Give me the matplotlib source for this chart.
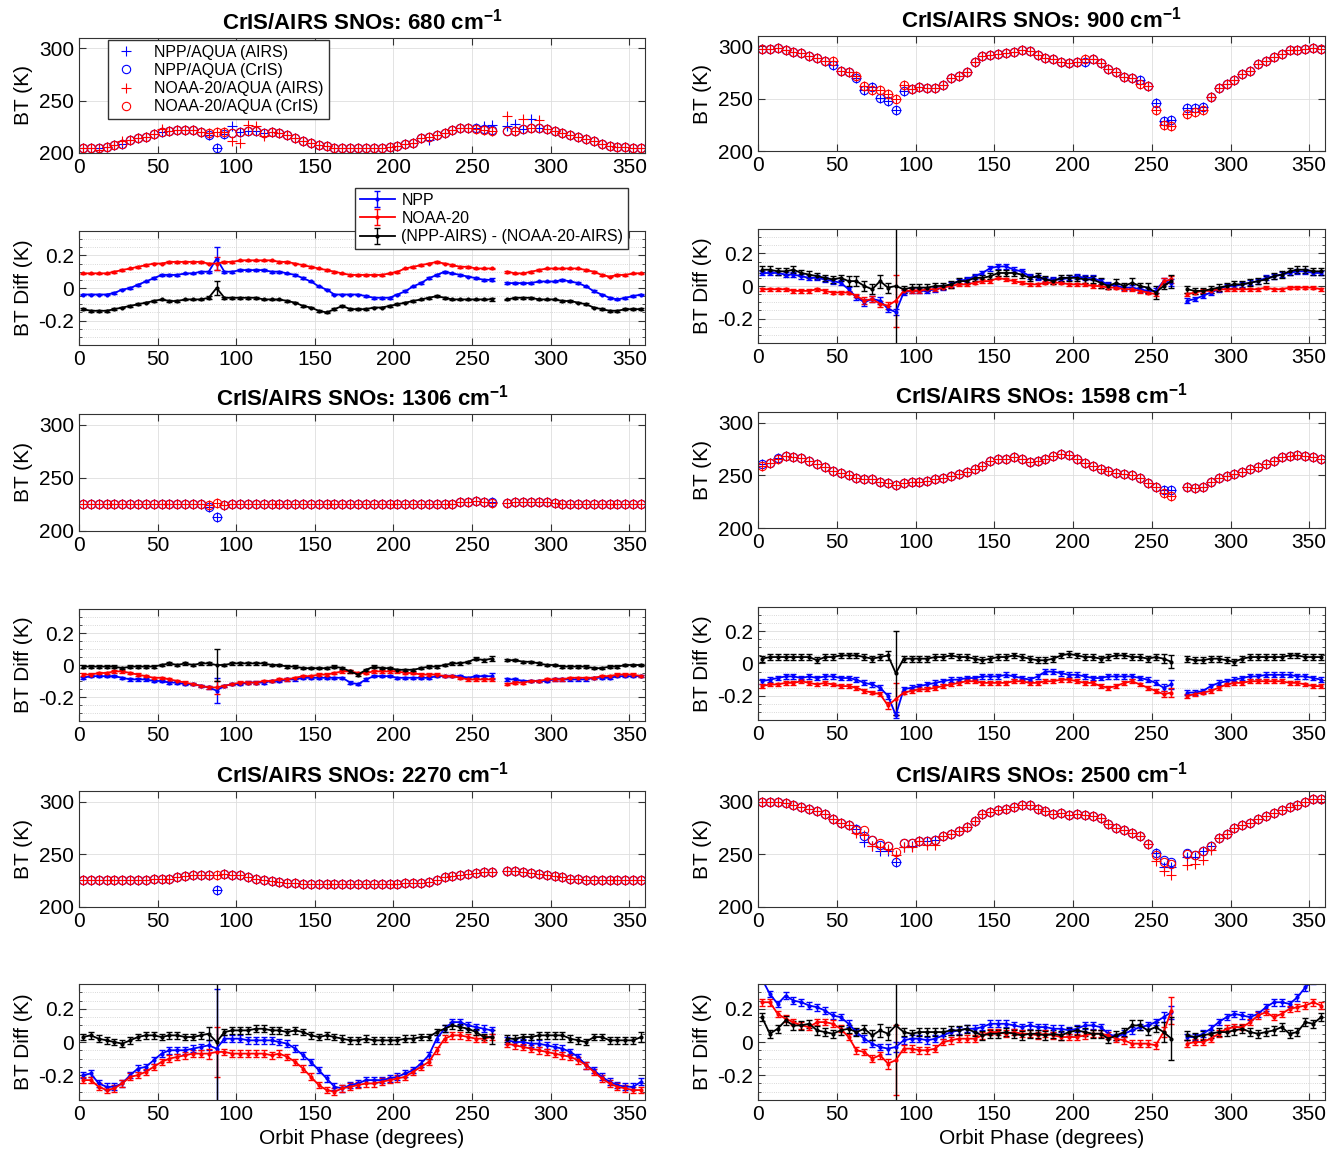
"""CrIS/AIRS SNO comparison: BT and BT difference vs orbit phase, six channels."""

import matplotlib
matplotlib.use("Agg")
import matplotlib.pyplot as plt
import numpy as np
from matplotlib.ticker import MultipleLocator

plt.rcParams["font.family"] = ["Liberation Sans", "DejaVu Sans"]
plt.rcParams["mathtext.fontset"] = "custom"
plt.rcParams["mathtext.rm"] = "Liberation Sans"
plt.rcParams["mathtext.bf"] = "Liberation Sans:bold"
plt.rcParams["axes.unicode_minus"] = False

# orbit phase bin centres (deg); no SNOs between 265 and 270
phase = np.r_[np.arange(2.5, 265, 5), np.arange(272.5, 360, 5)]

# each list: 53 bins up to 262.5, then 18 bins from 272.5
# ---- 680 cm-1 ----
bt_680_npp = [205, 205, 205, 206, 208, 209, 212, 214, 215, 218,
              220, 221, 222, 222, 222, 220, 217, 205, 218, 219,
              220, 221, 221, 219, 220, 219, 217, 214, 211, 210,
              208, 207, 205, 205, 205, 205, 205, 205, 205, 206,
              207, 209, 210, 214, 215, 217, 219, 222, 224, 224,
              224, 223, 222,
              221, 221, 223, 224, 224, 223, 221, 219, 217, 215,
              213, 211, 209, 207, 206, 206, 205, 205]
bt_680_n20 = [205, 205, 205, 206, 208, 209, 212, 214, 215, 218,
              220, 221, 222, 222, 222, 220, 219, 220, 220, 219,
              220, 221, 221, 219, 220, 219, 217, 214, 211, 210,
              208, 207, 205, 205, 205, 205, 205, 205, 205, 206,
              207, 209, 210, 214, 215, 217, 219, 222, 224, 224,
              223, 222, 221,
              221, 221, 223, 224, 224, 223, 221, 219, 217, 215,
              213, 211, 209, 207, 206, 206, 205, 205]
bt_680_npp_airs = [205, 205, 205, 206, 208, 209, 212, 214, 215, 218,
                   220, 221, 222, 222, 222, 220, 217, 205, 218, 226,
                   220, 221, 221, 219, 220, 219, 217, 214, 211, 210,
                   208, 207, 205, 205, 205, 205, 205, 205, 205, 206,
                   207, 209, 210, 214, 212, 217, 219, 222, 224, 224,
                   224, 226, 227,
                   226, 228, 223, 232, 224, 223, 221, 219, 217, 215,
                   213, 211, 209, 207, 206, 206, 205, 205]
bt_680_n20_airs = [205, 205, 203, 206, 208, 211, 212, 214, 215, 218,
                   223, 221, 222, 222, 222, 220, 219, 220, 220, 211,
                   210, 227, 226, 216, 220, 219, 217, 214, 211, 210,
                   208, 207, 205, 205, 205, 205, 205, 205, 205, 206,
                   207, 209, 210, 214, 215, 217, 219, 222, 224, 224,
                   223, 222, 221,
                   235, 221, 232, 224, 231, 223, 221, 219, 217, 215,
                   213, 211, 209, 207, 206, 206, 205, 205]
# BT differences in units of 0.01 K
d_680_npp = [-4, -4, -4, -4, -3, -1, 0, 2, 4, 6,
             8, 8, 8, 9, 9, 10, 10, 18, 10, 10,
             11, 11, 11, 11, 10, 10, 9, 8, 6, 4,
             1, -1, -4, -4, -4, -4, -5, -6, -6, -6,
             -4, -2, 1, 3, 6, 8, 10, 9, 8, 7,
             6, 5, 5,
             3, 3, 3, 3, 4, 4, 4, 5, 4, 3,
             1, -2, -4, -6, -7, -6, -5, -4]
d_680_n20 = [9, 9, 9, 9, 10, 11, 12, 13, 14, 15,
             15, 16, 16, 16, 16, 16, 15, 15, 16, 16,
             17, 17, 17, 17, 17, 16, 16, 15, 14, 13,
             12, 11, 10, 9, 8, 8, 8, 8, 8, 9,
             10, 12, 13, 14, 15, 16, 15, 14, 13, 13,
             12, 12, 12,
             10, 9, 9, 10, 11, 12, 12, 12, 12, 12,
             11, 10, 8, 7, 8, 8, 9, 9]
d_680_dd = [-13, -14, -14, -14, -13, -12, -11, -10, -9, -8,
            -7, -8, -8, -7, -7, -7, -6, 0, -6, -6,
            -6, -6, -6, -7, -7, -7, -8, -9, -11, -12,
            -14, -15, -13, -11, -13, -13, -13, -12, -12, -11,
            -10, -9, -8, -7, -6, -5, -6, -7, -7, -7,
            -7, -7, -7,
            -7, -6, -6, -6, -7, -7, -7, -8, -8, -9,
            -10, -12, -13, -14, -14, -13, -13, -13]
e_680_npp = [0.5, 0.5, 0.5, 0.5, 0.5, 0.5, 0.5, 0.5, 0.5, 0.5,
             0.5, 0.5, 0.5, 0.5, 0.5, 0.5, 0.5, 7, 0.5, 0.5,
             0.5, 0.5, 0.5, 0.5, 0.5, 0.5, 0.5, 0.5, 0.5, 0.5,
             0.5, 0.5, 0.5, 0.5, 0.5, 0.5, 0.5, 0.5, 0.5, 0.5,
             0.5, 0.5, 0.5, 0.5, 0.5, 0.5, 0.5, 0.5, 0.5, 0.5,
             0.5, 0.5, 1,
             0.5, 0.5, 0.5, 0.5, 0.5, 0.5, 0.5, 0.5, 0.5, 0.5,
             0.5, 0.5, 0.5, 0.5, 0.5, 0.5, 0.5, 0.5]
e_680_n20 = [0.5, 0.5, 0.5, 0.5, 0.5, 0.5, 0.5, 0.5, 0.5, 0.5,
             0.5, 0.5, 0.5, 0.5, 0.5, 0.5, 0.5, 4, 0.5, 0.5,
             0.5, 0.5, 0.5, 0.5, 0.5, 0.5, 0.5, 0.5, 0.5, 0.5,
             0.5, 0.5, 0.5, 0.5, 0.5, 0.5, 0.5, 0.5, 0.5, 0.5,
             0.5, 0.5, 0.5, 0.5, 0.5, 0.5, 0.5, 0.5, 0.5, 0.5,
             0.5, 0.5, 0.5,
             0.5, 0.5, 0.5, 0.5, 0.5, 0.5, 0.5, 0.5, 0.5, 0.5,
             0.5, 0.5, 0.5, 0.5, 0.5, 0.5, 0.5, 0.5]
e_680_dd = [0.5, 0.5, 0.5, 0.5, 0.5, 0.5, 0.5, 0.5, 0.5, 0.5,
            0.5, 0.5, 0.5, 0.5, 0.5, 0.5, 1, 4, 0.5, 0.5,
            0.5, 0.5, 0.5, 0.5, 0.5, 0.5, 0.5, 0.5, 0.5, 0.5,
            0.5, 0.5, 0.5, 0.5, 0.5, 0.5, 0.5, 0.5, 0.5, 0.5,
            0.5, 0.5, 0.5, 0.5, 0.5, 0.5, 0.5, 0.5, 0.5, 0.5,
            0.5, 0.5, 1,
            0.5, 0.5, 0.5, 0.5, 0.5, 0.5, 0.5, 0.5, 0.5, 0.5,
            0.5, 0.5, 0.5, 0.5, 0.5, 0.5, 0.5, 0.5]

# ---- 900 cm-1 ----
bt_900_npp = [298, 298, 299, 297, 295, 294, 291, 289, 286, 282,
              277, 276, 270, 258, 261, 251, 248, 239, 257, 259,
              261, 260, 260, 263, 270, 272, 276, 285, 291, 292,
              293, 294, 295, 297, 296, 292, 289, 288, 285, 284,
              285, 285, 288, 284, 278, 276, 271, 270, 268, 262,
              246, 229, 230,
              241, 241, 242, 252, 260, 264, 268, 274, 277, 283,
              286, 290, 293, 297, 297, 298, 299, 298]
bt_900_n20 = [298, 298, 299, 297, 295, 294, 291, 289, 286, 286,
              277, 276, 272, 262, 258, 258, 255, 250, 263, 259,
              261, 260, 260, 263, 270, 272, 276, 285, 291, 292,
              293, 294, 295, 297, 296, 292, 289, 288, 285, 284,
              285, 288, 288, 284, 278, 276, 271, 270, 264, 262,
              239, 225, 224,
              235, 237, 239, 252, 260, 264, 268, 274, 277, 283,
              286, 290, 293, 297, 297, 298, 299, 298]
bt_900_npp_airs = bt_900_npp
bt_900_n20_airs = bt_900_n20
d_900_npp = [8, 8, 8, 7, 7, 6, 5, 5, 4, 3,
             2, -2, -7, -10, -8, -9, -14, -16, -4, -3,
             -3, -3, -2, -1, 1, 3, 4, 6, 8, 11,
             12, 12, 10, 9, 6, 5, 4, 4, 4, 5,
             6, 5, 5, 3, 1, 0, -1, -1, -2, -3,
             -3, 3, 2,
             -9, -8, -6, -4, -2, 0, 0, 1, 2, 3,
             5, 6, 7, 8, 9, 9, 8, 8]
d_900_n20 = [-2, -2, -2, -2, -3, -3, -3, -2, -3, -4,
             -4, -4, -6, -9, -8, -11, -12, -9, -3, -3,
             -3, -2, -2, -1, 0, 1, 1, 2, 3, 3,
             5, 4, 3, 2, 1, 1, 2, 2, 2, 1,
             1, 1, 0, 0, -1, -1, -2, -2, -3, -4,
             -5, 3, 4,
             -5, -4, -3, -3, -2, -2, -2, -2, -2, -2,
             -1, -2, -2, -1, -1, -1, -1, -2]
d_900_dd = [10, 10, 9, 9, 10, 8, 7, 6, 5, 4,
            5, 3, 3, 0, -2, 3, -1, 0, -2, -1,
            -1, -1, 0, 0, 1, 3, 3, 5, 5, 6,
            8, 8, 8, 7, 5, 6, 4, 3, 5, 5,
            5, 4, 4, 2, 0, 2, 0, 2, 0, -1,
            -4, 0, 3,
            -2, -3, -3, -2, -1, 0, 1, 1, 2, 3,
            4, 6, 7, 9, 10, 10, 9, 9]
e_900_npp = [1.5, 1.5, 1.5, 1.5, 1.5, 1.5, 1.5, 1.5, 1.5, 1.5,
             1.5, 1.5, 1.5, 2, 2, 2, 2, 2, 1.5, 1.5,
             1.5, 1.5, 1.5, 1.5, 1.5, 1.5, 1.5, 1.5, 1.5, 1.5,
             1.5, 1.5, 1.5, 1.5, 1.5, 1.5, 1.5, 1.5, 1.5, 1.5,
             1.5, 1.5, 1.5, 1.5, 1.5, 1.5, 1.5, 1.5, 1.5, 1.5,
             1.5, 2, 2,
             1.5, 1.5, 1.5, 1.5, 1.5, 1.5, 1.5, 1.5, 1.5, 1.5,
             1.5, 1.5, 1.5, 1.5, 1.5, 1.5, 1.5, 1.5]
e_900_n20 = [1, 1, 1, 1, 1, 1, 1, 1, 1, 1,
             1, 1, 1, 2, 2, 2, 2, 16, 1, 1,
             1, 1, 1, 1, 1, 1, 1, 1, 1, 1,
             1, 1, 1, 1, 1, 1, 1, 1, 1, 1,
             1, 1, 1, 1, 1, 1, 1, 1, 1, 1,
             1, 2, 2,
             1, 1, 1, 1, 1, 1, 1, 1, 1, 1,
             1, 1, 1, 1, 1, 1, 1, 1]
e_900_dd = [2, 2, 2, 2, 2, 2, 2, 2, 2, 2,
            2, 3, 3, 3, 3, 4, 3, 50, 2, 2,
            2, 2, 2, 2, 2, 2, 2, 2, 2, 2,
            2, 2, 2, 2, 2, 2, 2, 2, 2, 2,
            2, 2, 2, 3, 2, 2, 2, 3, 2, 3,
            4, 2, 4,
            2, 2, 2, 2, 2, 2, 2, 2, 2, 2,
            2, 2, 2, 2, 2, 2, 2, 2]

# ---- 1306 cm-1 ----
bt_1306_npp = [225, 225, 225, 225, 225, 225, 225, 225, 225, 225,
               225, 225, 225, 225, 225, 225, 223, 213, 224, 225,
               225, 225, 225, 225, 225, 225, 225, 225, 225, 225,
               225, 225, 225, 225, 225, 225, 225, 225, 225, 225,
               225, 225, 225, 225, 225, 225, 225, 225, 227, 227,
               228, 227, 227,
               226, 227, 227, 227, 227, 227, 226, 225, 225, 225,
               225, 225, 225, 225, 225, 225, 225, 225]
bt_1306_n20 = [225, 225, 225, 225, 225, 225, 225, 225, 225, 225,
               225, 225, 225, 225, 225, 225, 224, 226, 224, 225,
               225, 225, 225, 225, 225, 225, 225, 225, 225, 225,
               225, 225, 225, 225, 225, 225, 225, 225, 225, 225,
               225, 225, 225, 225, 225, 225, 225, 225, 227, 227,
               228, 227, 226,
               226, 227, 227, 227, 227, 227, 226, 225, 225, 225,
               225, 225, 225, 225, 225, 225, 225, 225]
bt_1306_npp_airs = bt_1306_npp
bt_1306_n20_airs = bt_1306_n20
d_1306_npp = [-8, -7, -7, -7, -7, -8, -9, -9, -9, -10,
              -10, -11, -11, -12, -12, -13, -14, -16, -13, -12,
              -12, -11, -11, -11, -10, -10, -9, -9, -8, -8,
              -8, -8, -8, -8, -11, -12, -9, -7, -7, -7,
              -8, -8, -8, -8, -8, -7, -7, -7, -7, -8,
              -7, -7, -7,
              -9, -9, -10, -10, -10, -10, -9, -9, -9, -9,
              -9, -8, -8, -8, -7, -7, -7, -7]
d_1306_n20 = [-6, -6, -5, -5, -4, -4, -5, -6, -7, -8,
              -8, -9, -10, -11, -12, -13, -14, -14, -13, -12,
              -11, -11, -11, -10, -10, -9, -9, -8, -7, -7,
              -6, -6, -5, -4, -4, -5, -5, -4, -4, -4,
              -4, -5, -5, -6, -6, -6, -7, -7, -8, -9,
              -9, -9, -9,
              -12, -11, -11, -10, -10, -9, -9, -9, -8, -8,
              -8, -8, -7, -7, -6, -6, -6, -7]
d_1306_dd = [-1, -1, -1, -1, -1, -2, -1, -1, -1, -1,
             0, 1, 0, 1, 0, 1, 1, 0, 0, 1,
             1, 1, 1, 1, 0, 0, -1, -1, -2, -2,
             -2, -2, -1, -2, -4, -6, -3, -1, -2, -2,
             -3, -3, -3, -2, -1, -1, 0, 1, 1, 2,
             4, 3, 4,
             3, 3, 2, 2, 1, 0, 0, -1, -1, -1,
             -1, -2, -2, -1, -1, 0, 0, 0]
e_1306_npp = [0.7, 0.7, 0.7, 0.7, 0.7, 0.7, 0.7, 0.7, 0.7, 0.7,
              0.7, 0.7, 0.7, 0.7, 0.7, 0.7, 0.7, 8, 0.7, 0.7,
              0.7, 0.7, 0.7, 0.7, 0.7, 0.7, 0.7, 0.7, 0.7, 0.7,
              0.7, 0.7, 0.7, 0.7, 0.7, 0.7, 0.7, 0.7, 0.7, 0.7,
              0.7, 0.7, 0.7, 0.7, 0.7, 0.7, 0.7, 0.7, 0.7, 0.7,
              0.7, 1, 2,
              0.7, 0.7, 0.7, 0.7, 0.7, 0.7, 0.7, 0.7, 0.7, 0.7,
              0.7, 0.7, 0.7, 0.7, 0.7, 0.7, 0.7, 0.7]
e_1306_n20 = [0.7, 0.7, 0.7, 0.7, 0.7, 0.7, 0.7, 0.7, 0.7, 0.7,
              0.7, 0.7, 0.7, 0.7, 0.7, 0.7, 0.7, 4, 0.7, 0.7,
              0.7, 0.7, 0.7, 0.7, 0.7, 0.7, 0.7, 0.7, 0.7, 0.7,
              0.7, 0.7, 0.7, 0.7, 0.7, 0.7, 0.7, 0.7, 0.7, 0.7,
              0.7, 0.7, 0.7, 0.7, 0.7, 0.7, 0.7, 0.7, 0.7, 0.7,
              0.7, 0.7, 1,
              0.7, 0.7, 0.7, 0.7, 0.7, 0.7, 0.7, 0.7, 0.7, 0.7,
              0.7, 0.7, 0.7, 0.7, 0.7, 0.7, 0.7, 0.7]
e_1306_dd = [0.7, 0.7, 0.7, 0.7, 0.7, 0.7, 0.7, 0.7, 0.7, 0.7,
             0.7, 0.7, 0.7, 0.7, 0.7, 0.7, 1, 10, 0.7, 0.7,
             0.7, 0.7, 0.7, 0.7, 0.7, 0.7, 0.7, 0.7, 0.7, 0.7,
             0.7, 0.7, 0.7, 0.7, 0.7, 0.7, 0.7, 0.7, 0.7, 0.7,
             0.7, 0.7, 0.7, 0.7, 0.7, 0.7, 0.7, 0.7, 0.7, 0.7,
             1, 1, 1.5,
             0.7, 0.7, 0.7, 0.7, 0.7, 0.7, 0.7, 0.7, 0.7, 0.7,
             0.7, 0.7, 0.7, 0.7, 0.7, 0.7, 0.7, 0.7]

# ---- 1598 cm-1 ----
bt_1598_npp = [261, 262, 266, 268, 267, 266, 264, 261, 258, 254,
               252, 250, 247, 246, 246, 244, 243, 241, 243, 244,
               244, 245, 246, 247, 249, 251, 253, 256, 259, 264,
               265, 265, 267, 265, 263, 264, 265, 268, 270, 269,
               265, 262, 259, 256, 254, 252, 251, 250, 247, 243,
               239, 236, 236,
               239, 238, 239, 244, 247, 249, 251, 253, 256, 258,
               261, 264, 267, 268, 269, 268, 267, 265]
bt_1598_n20 = [259, 262, 265, 268, 267, 266, 264, 261, 258, 254,
               252, 250, 247, 246, 246, 244, 243, 241, 243, 244,
               244, 245, 246, 247, 249, 251, 253, 256, 259, 264,
               265, 265, 267, 265, 263, 264, 265, 268, 270, 269,
               265, 262, 259, 256, 254, 252, 251, 250, 247, 243,
               239, 233, 230,
               239, 238, 239, 244, 247, 249, 251, 253, 256, 258,
               261, 264, 267, 268, 269, 268, 267, 265]
bt_1598_npp_airs = bt_1598_npp
bt_1598_n20_airs = bt_1598_n20
d_1598_npp = [-11, -10, -9, -8, -8, -9, -8, -9, -8, -8,
              -9, -9, -10, -12, -13, -15, -20, -32, -16, -15,
              -14, -13, -12, -11, -10, -10, -9, -9, -8, -8,
              -8, -7, -8, -9, -10, -8, -5, -5, -6, -7,
              -7, -8, -9, -9, -8, -8, -8, -8, -9, -10,
              -12, -15, -13,
              -18, -18, -17, -14, -12, -11, -10, -9, -8, -8,
              -7, -7, -7, -7, -8, -8, -9, -10]
d_1598_n20 = [-14, -13, -13, -12, -12, -11, -12, -13, -12, -13,
              -14, -14, -15, -17, -18, -19, -26, -22, -18, -17,
              -16, -16, -15, -14, -13, -12, -11, -11, -12, -12,
              -12, -12, -11, -11, -12, -12, -11, -11, -10, -10,
              -11, -12, -12, -14, -15, -14, -12, -11, -13, -15,
              -17, -19, -18,
              -20, -19, -18, -17, -15, -13, -12, -12, -11, -11,
              -11, -11, -11, -12, -12, -13, -14, -14]
d_1598_dd = [3, 4, 4, 4, 4, 4, 4, 2, 4, 4,
             5, 5, 5, 4, 3, 4, 5, -6, 3, 3,
             3, 3, 4, 4, 5, 4, 4, 3, 2, 3,
             4, 4, 5, 4, 3, 2, 2, 3, 5, 6,
             5, 4, 4, 3, 4, 5, 5, 4, 4, 3,
             4, 3, 1,
             3, 2, 2, 3, 3, 2, 1, 3, 4, 4,
             4, 4, 4, 5, 5, 4, 4, 4]
e_1598_npp = [1.5, 1.5, 1.5, 1.5, 1.5, 1.5, 1.5, 1.5, 1.5, 1.5,
              1.5, 1.5, 1.5, 1.5, 1.5, 1.5, 2, 2, 1.5, 1.5,
              1.5, 1.5, 1.5, 1.5, 1.5, 1.5, 1.5, 1.5, 1.5, 1.5,
              1.5, 1.5, 1.5, 1.5, 1.5, 1.5, 1.5, 1.5, 1.5, 1.5,
              1.5, 1.5, 1.5, 1.5, 1.5, 1.5, 1.5, 1.5, 1.5, 1.5,
              1.5, 2, 3,
              1.5, 1.5, 1.5, 1.5, 1.5, 1.5, 1.5, 1.5, 1.5, 1.5,
              1.5, 1.5, 1.5, 1.5, 1.5, 1.5, 1.5, 1.5]
e_1598_n20 = [1.2, 1.2, 1.2, 1.2, 1.2, 1.2, 1.2, 1.2, 1.2, 1.2,
              1.2, 1.2, 1.2, 1.2, 1.2, 1.2, 2, 10, 1.2, 1.2,
              1.2, 1.2, 1.2, 1.2, 1.2, 1.2, 1.2, 1.2, 1.2, 1.2,
              1.2, 1.2, 1.2, 1.2, 1.2, 1.2, 1.2, 1.2, 1.2, 1.2,
              1.2, 1.2, 1.2, 1.2, 1.2, 1.2, 1.2, 1.2, 1.2, 1.2,
              1.2, 2, 3,
              1.2, 1.2, 1.2, 1.2, 1.2, 1.2, 1.2, 1.2, 1.2, 1.2,
              1.2, 1.2, 1.2, 1.2, 1.2, 1.2, 1.2, 1.2]
e_1598_dd = [1.8, 1.8, 1.8, 1.8, 1.8, 1.8, 1.8, 1.8, 1.8, 1.8,
             1.8, 1.8, 1.8, 1.8, 1.8, 1.8, 3, 26, 1.8, 1.8,
             1.8, 1.8, 1.8, 1.8, 1.8, 1.8, 1.8, 1.8, 1.8, 1.8,
             1.8, 1.8, 1.8, 1.8, 1.8, 1.8, 1.8, 1.8, 1.8, 1.8,
             1.8, 1.8, 1.8, 1.8, 1.8, 1.8, 1.8, 1.8, 1.8, 1.8,
             1.8, 3, 4,
             1.8, 1.8, 1.8, 1.8, 1.8, 1.8, 1.8, 1.8, 1.8, 1.8,
             1.8, 1.8, 1.8, 1.8, 1.8, 1.8, 1.8, 1.8]

# ---- 2270 cm-1 ----
bt_2270_npp = [226, 226, 226, 226, 226, 226, 226, 226, 226, 227,
               227, 227, 228, 229, 230, 230, 230, 216, 231, 230,
               230, 228, 227, 226, 225, 224, 223, 223, 222, 222,
               222, 222, 222, 222, 222, 222, 222, 222, 222, 222,
               222, 223, 223, 223, 224, 226, 228, 229, 230, 231,
               232, 233, 233,
               234, 234, 233, 232, 231, 230, 229, 228, 227, 227,
               226, 226, 226, 226, 226, 226, 226, 226]
bt_2270_n20 = [226, 226, 226, 226, 226, 226, 226, 226, 226, 227,
               227, 227, 228, 229, 230, 230, 230, 230, 231, 230,
               230, 228, 227, 226, 225, 224, 223, 223, 222, 222,
               222, 222, 222, 222, 222, 222, 222, 222, 222, 222,
               222, 223, 223, 223, 224, 226, 228, 229, 230, 231,
               232, 233, 233,
               234, 234, 233, 232, 231, 230, 229, 228, 227, 227,
               226, 226, 226, 226, 226, 226, 226, 226]
bt_2270_npp_airs = bt_2270_npp
bt_2270_n20_airs = bt_2270_n20
d_2270_npp = [-20, -19, -25, -27, -27, -25, -20, -16, -15, -11,
              -7, -5, -5, -5, -4, -3, -2, -4, 2, 2,
              2, 1, 1, 1, 1, 0, -1, -4, -8, -12,
              -17, -22, -27, -28, -26, -25, -23, -23, -23, -22,
              -21, -19, -17, -13, -8, 2, 8, 12, 12, 10,
              9, 8, 7,
              1, 0, 0, -1, -1, -2, -3, -4, -6, -9,
              -14, -17, -21, -24, -26, -27, -27, -24]
d_2270_n20 = [-23, -23, -27, -29, -28, -25, -21, -20, -18, -15,
              -12, -10, -9, -8, -7, -7, -7, -6, -6, -7,
              -7, -7, -7, -7, -8, -7, -9, -12, -16, -21,
              -26, -29, -30, -28, -27, -26, -25, -25, -24, -23,
              -22, -21, -18, -15, -12, -5, 2, 4, 4, 3,
              2, 2, 3,
              -1, -2, -3, -4, -5, -6, -7, -8, -9, -11,
              -14, -18, -22, -25, -27, -28, -29, -29]
d_2270_dd = [3, 4, 2, 1, 0, -1, 1, 3, 4, 4,
             3, 4, 4, 3, 3, 4, 5, 0, 6, 7,
             7, 7, 8, 8, 7, 7, 6, 7, 6, 4,
             3, 4, 3, 2, 1, 1, 2, 1, 1, 1,
             1, 2, 2, 3, 3, 6, 8, 10, 9, 8,
             6, 3, 3,
             2, 2, 3, 3, 4, 4, 4, 4, 2, 1,
             0, 3, 3, 1, 1, 1, 1, 3]
e_2270_npp = [2, 2, 2, 2, 2, 2, 2, 2, 2, 2,
              2, 2, 2, 2, 2, 2, 3, 36, 2, 2,
              2, 2, 2, 2, 2, 2, 2, 2, 2, 2,
              2, 2, 2, 2, 2, 2, 2, 2, 2, 2,
              2, 2, 2, 2, 2, 2, 2, 2, 2, 2,
              2, 2, 2,
              2, 2, 2, 2, 2, 2, 2, 2, 2, 2,
              2, 2, 2, 2, 2, 2, 2, 2]
e_2270_n20 = [2, 2, 2, 2, 2, 2, 2, 2, 2, 2,
              2, 2, 2, 2, 2, 2, 3, 15, 2, 2,
              2, 2, 2, 2, 2, 2, 2, 2, 2, 2,
              2, 2, 2, 2, 2, 2, 2, 2, 2, 2,
              2, 2, 2, 2, 2, 2, 2, 2, 2, 2,
              2, 2, 2,
              2, 2, 2, 2, 2, 2, 2, 2, 2, 2,
              2, 2, 2, 2, 2, 2, 2, 2]
e_2270_dd = [2, 2, 2, 2, 2, 2, 2, 2, 2, 2,
             2, 2, 2, 2, 2, 2, 4, 50, 2, 2,
             2, 2, 2, 2, 2, 2, 2, 2, 2, 2,
             2, 2, 2, 2, 2, 2, 2, 2, 2, 2,
             2, 2, 2, 2, 2, 2, 2, 2, 2, 2,
             2, 2, 4,
             2, 2, 2, 2, 2, 2, 2, 2, 2, 2,
             2, 2, 2, 2, 2, 2, 2, 3]

# ---- 2500 cm-1 ----
bt_2500_npp = [300, 300, 300, 299, 297, 295, 293, 291, 288, 283,
               280, 278, 274, 267, 264, 259, 258, 243, 261, 261,
               263, 263, 264, 267, 269, 272, 276, 282, 288, 290,
               292, 293, 295, 297, 297, 293, 291, 288, 289, 287,
               288, 287, 286, 284, 279, 275, 273, 270, 267, 260,
               251, 245, 243,
               251, 249, 253, 258, 265, 269, 275, 278, 280, 283,
               286, 289, 292, 295, 297, 300, 302, 302]
bt_2500_n20 = [300, 300, 300, 299, 297, 295, 293, 291, 288, 283,
               280, 278, 273, 273, 264, 261, 258, 252, 261, 261,
               263, 263, 264, 267, 269, 272, 276, 282, 288, 290,
               292, 293, 295, 297, 297, 293, 291, 288, 289, 287,
               288, 287, 286, 284, 279, 275, 273, 270, 267, 260,
               249, 243, 241,
               250, 249, 253, 258, 265, 269, 275, 278, 280, 283,
               286, 289, 292, 295, 297, 300, 302, 302]
bt_2500_npp_airs = [300, 300, 300, 299, 297, 295, 293, 291, 288, 283,
                    280, 278, 274, 262, 258, 253, 253, 243, 257, 258,
                    263, 263, 264, 267, 269, 272, 276, 282, 288, 290,
                    292, 293, 295, 297, 297, 293, 291, 288, 289, 287,
                    288, 287, 286, 284, 279, 275, 273, 270, 267, 260,
                    251, 238, 238,
                    247, 247, 253, 258, 265, 269, 275, 278, 280, 283,
                    286, 289, 292, 295, 297, 300, 302, 302]
bt_2500_n20_airs = [300, 300, 300, 299, 297, 295, 293, 291, 288, 283,
                    280, 278, 270, 268, 258, 257, 255, 249, 257, 257,
                    263, 259, 259, 267, 269, 272, 276, 282, 288, 290,
                    292, 293, 295, 297, 297, 293, 291, 288, 289, 287,
                    288, 287, 286, 284, 279, 275, 273, 270, 267, 260,
                    244, 234, 230,
                    240, 241, 245, 254, 265, 269, 275, 278, 280, 283,
                    286, 289, 292, 295, 297, 300, 302, 302]
d_2500_npp = [38, 29, 23, 28, 25, 24, 22, 21, 19, 16,
              15, 11, 6, 2, -1, -3, -4, -3, 1, 2,
              2, 1, 2, 4, 6, 7, 8, 8, 9, 11,
              11, 11, 10, 9, 10, 9, 9, 8, 8, 7,
              8, 10, 10, 9, 5, 3, 5, 7, 9, 10,
              12, 15, 18,
              3, 3, 5, 8, 12, 15, 17, 16, 15, 17,
              21, 24, 24, 23, 27, 33, 37, 40]
d_2500_n20 = [24, 24, 17, 14, 12, 10, 9, 12, 12, 11,
              8, 3, -5, -6, -10, -8, -13, -11, -4, -4,
              -5, -5, -4, 0, 1, 2, 2, 2, 4, 6,
              6, 5, 6, 5, 5, 4, 5, 4, 3, 3,
              3, 4, 5, 5, 4, 2, 1, -1, -1, -1,
              -2, 6, 19,
              -1, 0, 0, 2, 5, 8, 9, 9, 12, 16,
              18, 15, 17, 20, 21, 22, 24, 22]
d_2500_dd = [15, 5, 8, 13, 10, 10, 11, 7, 6, 5,
             7, 8, 6, 8, 4, 7, 5, 10, 6, 5,
             6, 6, 6, 6, 7, 7, 8, 6, 4, 5,
             5, 6, 5, 4, 5, 5, 4, 5, 4, 6,
             7, 6, 5, 5, 2, 4, 6, 10, 10, 7,
             9, 6, 2,
             4, 3, 4, 5, 6, 6, 7, 8, 6, 5,
             6, 7, 9, 5, 6, 12, 11, 15]
e_2500_npp = [2, 2, 2, 2, 2, 2, 2, 2, 2, 2,
              2, 2, 2, 2, 2, 2, 3, 3, 2, 2,
              2, 2, 2, 2, 2, 2, 2, 2, 2, 2,
              2, 2, 2, 2, 2, 2, 2, 2, 2, 2,
              2, 2, 2, 2, 2, 2, 2, 2, 2, 2,
              2, 3, 4,
              2, 2, 2, 2, 2, 2, 2, 2, 2, 2,
              2, 2, 2, 2, 2, 2, 2, 2]
e_2500_n20 = [2, 2, 2, 2, 2, 2, 2, 2, 2, 2,
              2, 2, 2, 2, 2, 2, 3, 21, 2, 2,
              2, 2, 2, 2, 2, 2, 2, 2, 2, 2,
              2, 2, 2, 2, 2, 2, 2, 2, 2, 2,
              2, 2, 2, 2, 2, 2, 2, 2, 2, 2,
              2, 3, 8,
              2, 2, 2, 2, 2, 2, 2, 2, 2, 2,
              2, 2, 2, 2, 2, 2, 2, 2]
e_2500_dd = [2.5, 2.5, 2.5, 2.5, 2.5, 2.5, 2.5, 2.5, 2.5, 2.5,
             2.5, 2.5, 2.5, 2.5, 3, 4, 4, 50, 2.5, 2.5,
             2.5, 2.5, 2.5, 2.5, 2.5, 2.5, 2.5, 2.5, 2.5, 2.5,
             2.5, 2.5, 2.5, 2.5, 2.5, 2.5, 2.5, 2.5, 2.5, 2.5,
             2.5, 2.5, 2.5, 2.5, 2.5, 2.5, 2.5, 3, 3, 3,
             3, 6, 13,
             2.5, 2.5, 2.5, 2.5, 2.5, 2.5, 2.5, 2.5, 2.5, 2.5,
             2.5, 2.5, 2.5, 2.5, 2.5, 2.5, 2.5, 2.5]

channels = ["680", "900", "1306", "1598", "2270", "2500"]
g = globals()

W, H = 1338, 1159
# column x extents and (col, BT top, BT bottom, diff top, diff bottom) in pixels
COLS = {0: (79, 645), 1: (758, 1325)}
ROWS = {
    "680": (0, 37.5, 153, 231, 345),
    "1306": (0, 414, 531, 609, 721),
    "2270": (0, 791, 907, 984, 1100),
    "900": (1, 36, 151, 229, 343),
    "1598": (1, 412, 528, 607, 720),
    "2500": (1, 791, 907, 984, 1100),
}
FS = 15
SEGS = [slice(0, 53), slice(53, None)]
LEG_KW = dict(bbox_transform=None, fontsize=11.5, fancybox=False, edgecolor="0.2",
              framealpha=1, borderpad=0.3, labelspacing=0.2, borderaxespad=0)


def px_rect(x0, x1, top, bottom):
    return [x0 / W, 1 - bottom / H, (x1 - x0) / W, (bottom - top) / H]


def style(ax):
    ax.set_xlim(0, 360)
    ax.set_xticks(np.arange(0, 351, 50))
    ax.set_axisbelow(True)
    ax.grid(True, color="0.87", linewidth=0.6)
    ax.tick_params(direction="in", top=True, right=True, labelsize=FS,
                   length=5, width=0.8, color="0.2")
    for s in ax.spines.values():
        s.set_color("0.2")
        s.set_linewidth(0.8)


fig = plt.figure(figsize=(W / 100, H / 100), dpi=100)
LEG_KW["bbox_transform"] = fig.transFigure

for ch in channels:
    col, bt_top, bt_bot, d_top, d_bot = ROWS[ch]
    x0, x1 = COLS[col]

    # brightness temperature panel
    ax = fig.add_axes(px_rect(x0, x1, bt_top, bt_bot))
    h1, = ax.plot(phase, g[f"bt_{ch}_npp_airs"], "+", color="blue", ms=7, mew=0.8)
    h2, = ax.plot(phase, g[f"bt_{ch}_npp"], "o", color="blue", ms=6, mew=0.8, mfc="none")
    h3, = ax.plot(phase, g[f"bt_{ch}_n20_airs"], "+", color="red", ms=7, mew=0.8)
    h4, = ax.plot(phase, g[f"bt_{ch}_n20"], "o", color="red", ms=6, mew=0.8, mfc="none")
    style(ax)
    ax.set_ylim(200, 310)
    ax.set_yticks([200, 250, 300])
    ax.set_ylabel("BT (K)", fontsize=FS)
    ax.set_title(f"CrIS/AIRS SNOs: {ch} cm$^{{\\mathbf{{-1}}}}$", fontsize=16,
                 fontweight="bold", pad=6)
    if ch == "680":
        ax.legend([h1, h2, h3, h4],
                  ["NPP/AQUA (AIRS)", "NPP/AQUA (CrIS)",
                   "NOAA-20/AQUA (AIRS)", "NOAA-20/AQUA (CrIS)"],
                  loc="upper left", bbox_to_anchor=(108 / W, 1 - 40 / H),
                  handlelength=1.6, handletextpad=1.0, **LEG_KW)

    # BT difference panel
    ax = fig.add_axes(px_rect(x0, x1, d_top, d_bot))
    handles = []
    for key, color in [("npp", "blue"), ("n20", "red"), ("dd", "black")]:
        d = np.array(g[f"d_{ch}_{key}"]) / 100.0
        e = np.array(g[f"e_{ch}_{key}"]) / 100.0
        for i, sl in enumerate(SEGS):
            eb = ax.errorbar(phase[sl], d[sl], yerr=e[sl], color=color, marker=".",
                             ms=4, lw=1.3, elinewidth=1.0, capsize=2.5, capthick=1.0)
            if i == 0:
                handles.append(eb)
    style(ax)
    ax.set_ylim(-0.35, 0.35)
    ax.set_yticks([-0.2, 0, 0.2], ["-0.2", "0", "0.2"])
    ax.yaxis.set_minor_locator(MultipleLocator(0.05))
    ax.tick_params(which="minor", direction="in", right=True, length=2.5,
                   width=0.6, color="0.2")
    ax.grid(True, which="minor", axis="y", linestyle=":", color="0.8", linewidth=0.6)
    ax.set_ylabel("BT Diff (K)", fontsize=FS)
    if ch in ("2270", "2500"):
        ax.set_xlabel("Orbit Phase (degrees)", fontsize=FS)
    if ch == "680":
        ax.legend(handles, ["NPP", "NOAA-20", "(NPP-AIRS) - (NOAA-20-AIRS)"],
                  loc="upper left", bbox_to_anchor=(355 / W, 1 - 188 / H),
                  handlelength=2.2, handletextpad=0.4, **LEG_KW)

fig.savefig("out.png", dpi=100)
plt.close(fig)
